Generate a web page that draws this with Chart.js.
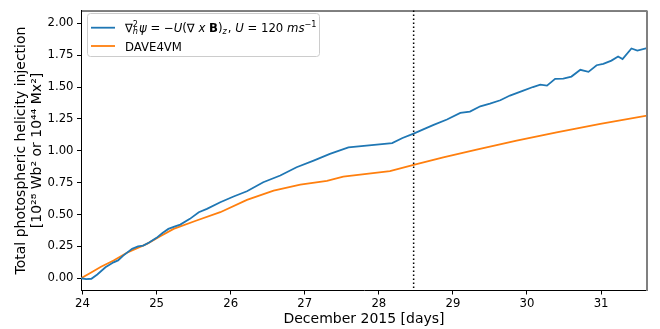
<!DOCTYPE html>
<html>
<head>
<meta charset="utf-8">
<script src="https://cdn.jsdelivr.net/npm/chart.js@4/dist/chart.umd.min.js"></script>
<style>
  body { margin: 0; background: #fff; }
  #wrap { width: 660px; height: 329px; }
</style>
</head>
<body>
<div id="wrap"><canvas id="helicity" width="660" height="329"></canvas></div>
<script>
// values (day of December 2015, 10^28 Wb^2)
const blueDays = [23.98, 24.05, 24.12, 24.2, 24.31, 24.42, 24.48, 24.55, 24.67, 24.75, 24.82, 24.9, 25.0,
  25.08, 25.16, 25.24, 25.32, 25.45, 25.57, 25.68, 25.86, 26.04, 26.22, 26.44, 26.67, 26.89, 27.12,
  27.34, 27.59, 28.18, 28.32, 28.47, 28.6, 28.74, 28.92, 29.1, 29.23, 29.37, 29.5, 29.64, 29.77,
  29.95, 30.08, 30.18, 30.27, 30.38, 30.49, 30.6, 30.72, 30.83, 30.94, 31.03, 31.14, 31.23, 31.29,
  31.41, 31.49, 31.62];
const blueVals = [0.0, -0.006, -0.004, 0.03, 0.086, 0.125, 0.14, 0.178, 0.231, 0.25, 0.256, 0.28, 0.317,
  0.355, 0.387, 0.405, 0.421, 0.466, 0.518, 0.544, 0.596, 0.641, 0.682, 0.753, 0.806, 0.871, 0.923,
  0.976, 1.027, 1.06, 1.1, 1.135, 1.168, 1.203, 1.245, 1.297, 1.307, 1.349, 1.37, 1.396, 1.433,
  1.472, 1.5, 1.518, 1.511, 1.564, 1.566, 1.582, 1.635, 1.619, 1.671, 1.682, 1.707, 1.739, 1.719,
  1.802, 1.786, 1.806];
const orangeDays = [23.98, 24.1, 24.25, 24.42, 24.6, 24.87, 25.05, 25.23, 25.54, 25.86, 26.22, 26.58,
  26.94, 27.3, 27.52, 28.15, 28.47, 28.87, 29.32, 29.86, 30.4, 30.99, 31.62];
const orangeVals = [0.0, 0.04, 0.09, 0.139, 0.2, 0.27, 0.33, 0.387, 0.453, 0.518, 0.615, 0.688,
  0.735, 0.764, 0.798, 0.841, 0.889, 0.949, 1.009, 1.08, 1.145, 1.211, 1.276];
const xTicks = [24, 25, 26, 27, 28, 29, 30, 31];
const yTicks = [0, 0.25, 0.5, 0.75, 1.0, 1.25, 1.5, 1.75, 2.0];
const markDay = 28.47;

const xTitle = 'December 2015 [days]';
const yTitle = ['Total photospheric helicity injection', '[10²⁸ Wb² or 10⁴⁴ Mx²]'];
const orangeLabel = 'DAVE4VM';
// ∇²ₕψ = −U(∇ x B)_z, U = 120 ms⁻¹  (t: text, i: italic, b: bold, sup/sub: small scripts)
const blueLabel = [
  {t: '∇'}, {sup: '2', sub: 'h'}, {t: 'ψ', i: true}, {t: ' = −'}, {t: 'U', i: true},
  {t: '(∇ '}, {t: 'x', i: true}, {t: ' '}, {t: 'B', b: true}, {t: ')'}, {sub: 'z', si: true},
  {t: ', '}, {t: 'U', i: true}, {t: ' = 120 '}, {t: 'ms', i: true}, {sup: '−1'}
];

const FONT = '"DejaVu Sans", sans-serif';
Chart.defaults.font.family = FONT;
Chart.defaults.color = '#000';

const BLUE = '#1f77b4';
const ORANGE = '#ff7f0e';

function drawMath(ctx, segs, x, y, size) {
  const small = size * 0.7;
  for (const s of segs) {
    if (s.t) {
      ctx.font = (s.i ? 'italic ' : '') + (s.b ? 'bold ' : '') + size + 'px ' + FONT;
      ctx.fillText(s.t, x, y);
      x += ctx.measureText(s.t).width;
    } else {
      let w = 0;
      ctx.font = small + 'px ' + FONT;
      if (s.sup) {
        ctx.fillText(s.sup, x, y - size * 0.38);
        w = Math.max(w, ctx.measureText(s.sup).width);
      }
      if (s.sub) {
        ctx.font = 'italic ' + small + 'px ' + FONT;
        ctx.fillText(s.sub, x, y + size * 0.2);
        w = Math.max(w, ctx.measureText(s.sub).width);
      }
      x += w + 1;
    }
  }
  return x;
}

const frame = {
  id: 'frame',
  afterDatasetsDraw(chart) {
    const {ctx, chartArea: a, scales} = chart;
    ctx.save();
    // dotted marker line
    const mx = scales.x.getPixelForValue(markDay);
    ctx.strokeStyle = '#000';
    ctx.lineWidth = 1.5;
    ctx.setLineDash([1.5, 2.5]);
    ctx.beginPath();
    ctx.moveTo(mx, a.top);
    ctx.lineTo(mx, a.bottom);
    ctx.stroke();
    ctx.setLineDash([]);
    // top spine
    ctx.lineWidth = 1;
    ctx.beginPath();
    ctx.moveTo(a.left, a.top + 0.5);
    ctx.lineTo(a.right, a.top + 0.5);
    ctx.stroke();
    // right spine is grey in the source
    ctx.strokeStyle = '#808080';
    ctx.lineWidth = 2;
    ctx.beginPath();
    ctx.moveTo(a.right, a.top);
    ctx.lineTo(a.right, a.bottom + 0.5);
    ctx.stroke();
    ctx.restore();
  },
  afterDraw(chart) {
    const ctx = chart.ctx;
    const size = 11.7;
    ctx.save();
    // legend frame
    ctx.fillStyle = 'rgba(255,255,255,0.8)';
    ctx.strokeStyle = '#cccccc';
    ctx.lineWidth = 1;
    ctx.beginPath();
    ctx.roundRect(87.5, 13.5, 232, 43, 3);
    ctx.fill();
    ctx.stroke();
    // line samples
    ctx.lineWidth = 1.8;
    ctx.strokeStyle = BLUE;
    ctx.beginPath(); ctx.moveTo(91, 27.7); ctx.lineTo(115, 27.7); ctx.stroke();
    ctx.strokeStyle = ORANGE;
    ctx.beginPath(); ctx.moveTo(91, 46); ctx.lineTo(115, 46); ctx.stroke();
    // labels
    ctx.fillStyle = '#000';
    ctx.textBaseline = 'alphabetic';
    ctx.textAlign = 'left';
    drawMath(ctx, blueLabel, 125, 31.8, size);
    ctx.font = size + 'px ' + FONT;
    ctx.fillText(orangeLabel, 125, 50.5);
    ctx.restore();
  }
};

new Chart(document.getElementById('helicity'), {
  type: 'line',
  data: {
    datasets: [{
      label: 'blue',
      data: blueDays.map((d, i) => ({x: d, y: blueVals[i]})),
      borderColor: BLUE,
      borderWidth: 1.8,
      pointRadius: 0,
      tension: 0
    }, {
      label: orangeLabel,
      data: orangeDays.map((d, i) => ({x: d, y: orangeVals[i]})),
      borderColor: ORANGE,
      borderWidth: 1.8,
      pointRadius: 0,
      tension: 0
    }]
  },
  options: {
    responsive: false,
    animation: false,
    layout: { padding: { top: 10, right: 13, left: 0, bottom: 0 } },
    plugins: { legend: { display: false }, tooltip: { enabled: false } },
    scales: {
      x: {
        type: 'linear',
        min: 23.98,
        max: 31.62,
        afterBuildTicks: s => { s.ticks = xTicks.map(v => ({value: v})); },
        afterFit: s => { s.height = 38.5; },
        ticks: { callback: v => String(v), font: {size: 11.7}, padding: 2.5, maxRotation: 0, autoSkip: false },
        grid: { drawOnChartArea: false, tickLength: 4, tickColor: '#000', tickWidth: 1 },
        border: { color: '#000', width: 1 },
        title: { display: true, text: xTitle, font: {size: 14}, padding: {top: 0, bottom: 1.6} }
      },
      y: {
        min: -0.096,
        max: 2.1,
        afterBuildTicks: s => { s.ticks = yTicks.map(v => ({value: v})); },
        afterFit: s => { s.width = 81; },
        ticks: { callback: v => v.toFixed(2), font: {size: 11.7}, padding: 3.5, autoSkip: false },
        grid: { drawOnChartArea: false, tickLength: 4, tickColor: '#000', tickWidth: 1 },
        border: { color: '#000', width: 1 },
        title: { display: true, text: yTitle, font: {size: 14}, padding: {top: 12.6, bottom: 0} }
      }
    }
  },
  plugins: [frame]
});
</script>
</body>
</html>
